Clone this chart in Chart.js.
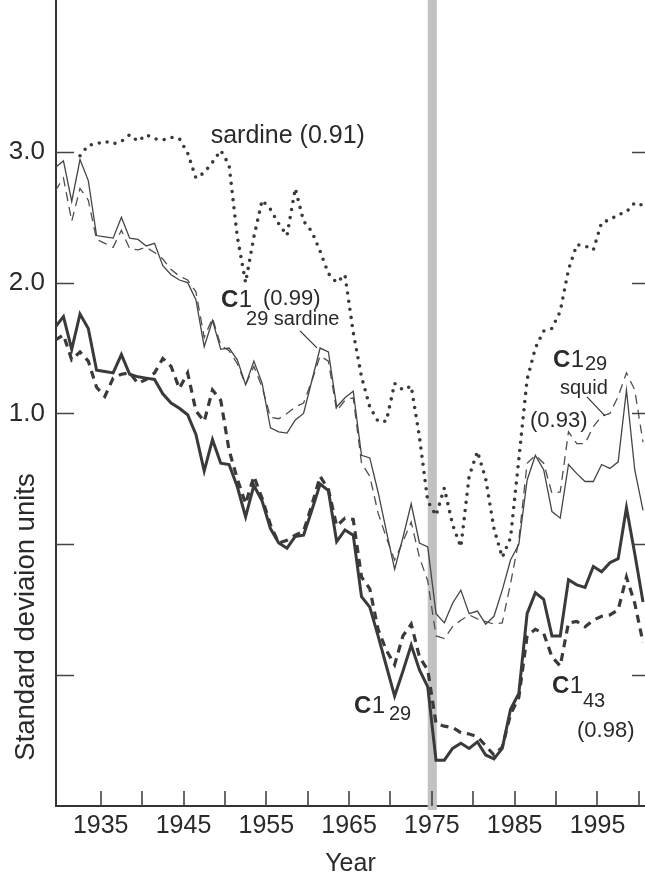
<!DOCTYPE html>
<html>
<head>
<meta charset="utf-8">
<script src="https://cdn.jsdelivr.net/npm/chart.js@4.4.0/dist/chart.umd.min.js"></script>
<style>
html, body { margin: 0; padding: 0; background: #fff; overflow: hidden; }
#wrap { width: 645px; height: 874px; }
</style>
</head>
<body>
<div id="wrap"><canvas id="canvas" width="645" height="874"></canvas></div>
<script>
// annual values, plotted at mid-year
var years = [1929, 1930, 1931, 1932, 1933, 1934, 1935, 1936, 1937, 1938,
    1939, 1940, 1941, 1942, 1943, 1944, 1945, 1946, 1947, 1948,
    1949, 1950, 1951, 1952, 1953, 1954, 1955, 1956, 1957, 1958,
    1959, 1960, 1961, 1962, 1963, 1964, 1965, 1966, 1967, 1968,
    1969, 1970, 1971, 1972, 1973, 1974, 1975, 1976, 1977, 1978,
    1979, 1980, 1981, 1982, 1983, 1984, 1985, 1986, 1987, 1988,
    1989, 1990, 1991, 1992, 1993, 1994, 1995, 1996, 1997, 1998,
    1999, 2000];

var sardine = [null, null, null, 2.97, 3.05, 3.06, 3.08, 3.06, 3.08, 3.13,
    3.08, 3.13, 3.10, 3.09, 3.11, 3.10, 2.99, 2.80, 2.84, 2.92,
    3.01, 2.90, 2.35, 2.00, 2.35, 2.63, 2.56, 2.45, 2.36, 2.72,
    2.47, 2.39, 2.24, 2.07, 2.00, 2.06, 1.62, 1.28, 1.05, 0.94,
    0.94, 1.23, 1.18, 1.21, 0.82, 0.33, 0.22, 0.43, 0.15, -0.02,
    0.52, 0.71, 0.50, 0.12, -0.10, 0.05, 0.65, 1.26, 1.50, 1.63,
    1.65, 1.78, 2.10, 2.29, 2.28, 2.25, 2.46, 2.48, 2.52, 2.54,
    2.61, 2.59];

var c129Sardine = [2.88, 2.93, 2.62, 2.94, 2.78, 2.36, 2.35, 2.34, 2.50, 2.34,
    2.33, 2.28, 2.30, 2.13, 2.06, 2.02, 2.00, 1.87, 1.51, 1.71,
    1.49, 1.50, 1.41, 1.22, 1.40, 1.23, 0.89, 0.86, 0.85, 0.95,
    1.00, 1.25, 1.50, 1.47, 1.05, 1.12, 1.17, 0.68, 0.66, 0.40,
    0.10, -0.19, 0.05, 0.31, 0.01, -0.02, -0.53, -0.60, -0.45, -0.35,
    -0.53, -0.51, -0.61, -0.55, -0.35, -0.12, 0.00, 0.49, 0.68, 0.57,
    0.25, 0.20, 0.61, 0.54, 0.48, 0.48, 0.61, 0.58, 0.63, 1.18,
    0.57, 0.26];

var c129Squid = [2.70, 2.80, 2.47, 2.72, 2.63, 2.33, 2.30, 2.27, 2.40, 2.26,
    2.25, 2.27, 2.23, 2.18, 2.10, 2.05, 2.02, 1.93, 1.58, 1.73,
    1.52, 1.48, 1.38, 1.22, 1.36, 1.20, 0.97, 0.96, 1.00, 1.05,
    1.08, 1.25, 1.44, 1.40, 1.02, 1.10, 1.12, 0.62, 0.52, 0.24,
    0.05, -0.12, 0.02, 0.17, -0.10, -0.28, -0.70, -0.72, -0.63, -0.58,
    -0.54, -0.57, -0.59, -0.61, -0.60, -0.30, 0.03, 0.62, 0.68, 0.62,
    0.39, 0.40, 0.86, 0.77, 0.77, 0.90, 0.98, 1.00, 1.13, 1.31,
    1.18, 0.78];

var c129 = [1.66, 1.74, 1.49, 1.76, 1.65, 1.33, 1.32, 1.31, 1.45, 1.30,
    1.28, 1.27, 1.26, 1.15, 1.08, 1.04, 0.99, 0.84, 0.56, 0.80,
    0.62, 0.61, 0.44, 0.21, 0.45, 0.33, 0.12, 0.01, -0.03, 0.06,
    0.07, 0.26, 0.46, 0.41, 0.02, 0.11, 0.07, -0.40, -0.48, -0.70,
    -0.93, -1.16, -0.97, -0.77, -0.96, -1.09, -1.65, -1.65, -1.56, -1.52,
    -1.56, -1.51, -1.61, -1.64, -1.56, -1.26, -1.14, -0.53, -0.37, -0.42,
    -0.70, -0.70, -0.27, -0.31, -0.33, -0.17, -0.21, -0.14, -0.11, 0.28,
    -0.07, -0.44];

var c143 = [1.56, 1.60, 1.41, 1.47, 1.40, 1.20, 1.13, 1.27, 1.30, 1.31,
    1.23, 1.26, 1.31, 1.42, 1.36, 1.19, 1.31, 1.02, 0.94, 1.18,
    1.10, 0.72, 0.50, 0.31, 0.52, 0.35, 0.15, 0.01, 0.03, 0.07,
    0.10, 0.30, 0.52, 0.42, 0.14, 0.20, 0.19, -0.25, -0.34, -0.65,
    -0.81, -0.92, -0.70, -0.61, -0.86, -0.96, -1.37, -1.39, -1.40, -1.44,
    -1.45, -1.47, -1.54, -1.61, -1.55, -1.30, -1.17, -0.70, -0.65, -0.68,
    -0.86, -0.93, -0.60, -0.59, -0.63, -0.58, -0.55, -0.54, -0.50, -0.25,
    -0.45, -0.75];

var xTickYears = [1935, 1940, 1945, 1950, 1955, 1960, 1965, 1970, 1975, 1980, 1985, 1990, 1995, 2000];
var xLabelYears = [1935, 1945, 1955, 1965, 1975, 1985, 1995];
var yTickValues = [-1, 0, 1, 2, 3];
var yLabelValues = [1, 2, 3];
var shiftYear = 1975;

var FONT = "'Liberation Sans', Arial, Helvetica, sans-serif";
var INK = '#3a3a3a';

function toPoints(values) {
    return years.map(function(yr, i) {
        return { x: yr + 0.5, y: values[i] };
    });
}

// draws the regime-shift band, inward ticks, axis titles and curve labels
var decor = {
    id: 'decor',
    beforeDatasetsDraw: function(chart) {
        var ctx = chart.ctx, a = chart.chartArea, xs = chart.scales.x;
        var x0 = xs.getPixelForValue(shiftYear - 0.5);
        var x1 = xs.getPixelForValue(shiftYear + 0.6);
        ctx.save();
        ctx.fillStyle = '#c2c2c2';
        ctx.fillRect(x0, a.top, x1 - x0, a.bottom - a.top + 4);
        ctx.restore();
    },
    afterDraw: function(chart) {
        var ctx = chart.ctx, a = chart.chartArea;
        var xs = chart.scales.x, ys = chart.scales.y;
        function px(yr, v) { return [xs.getPixelForValue(yr), ys.getPixelForValue(v)]; }

        ctx.save();
        ctx.strokeStyle = '#444';
        ctx.lineWidth = 1.3;
        ctx.beginPath();
        yTickValues.forEach(function(v) {
            var y = Math.round(ys.getPixelForValue(v)) + 0.5;
            ctx.moveTo(a.left, y); ctx.lineTo(a.left + 18, y);
            ctx.moveTo(a.right - 13, y); ctx.lineTo(a.right, y);
        });
        ctx.stroke();
        ctx.lineWidth = 1.6;
        ctx.beginPath();
        xTickYears.forEach(function(yr) {
            var x = Math.round(xs.getPixelForValue(yr));
            ctx.moveTo(x, a.bottom); ctx.lineTo(x, a.bottom - 15);
        });
        ctx.stroke();

        // axis titles
        ctx.fillStyle = '#2a2a2a';
        ctx.textBaseline = 'alphabetic';
        ctx.textAlign = 'center';
        ctx.font = '25px ' + FONT;
        ctx.fillText('Year', (a.left + a.right) / 2, 871);
        ctx.save();
        ctx.translate(34, 617);
        ctx.rotate(-Math.PI / 2);
        ctx.font = '27.5px ' + FONT;
        ctx.fillText('Standard deviaion units', 0, 0);
        ctx.restore();

        // curve labels
        ctx.textAlign = 'left';
        function text(str, yr, v, size, bold) {
            var p = px(yr, v);
            ctx.font = (bold ? 'bold ' : '') + size + 'px ' + FONT;
            ctx.fillText(str, p[0], p[1]);
            return p[0] + ctx.measureText(str).width;
        }
        function c1(yr, v) {
            var p = px(yr, v);
            ctx.font = 'bold 24px ' + FONT;
            ctx.fillText('C', p[0], p[1]);
            var w = ctx.measureText('C').width;
            ctx.font = '24px ' + FONT;
            ctx.fillText('1', p[0] + w + 0.5, p[1]);
        }
        function leader(yr0, v0, yr1, v1) {
            var p = px(yr0, v0), q = px(yr1, v1);
            ctx.beginPath();
            ctx.moveTo(p[0], p[1]); ctx.lineTo(q[0], q[1]);
            ctx.stroke();
        }

        text('sardine (0.91)', 1948.28, 3.07, 25);

        c1(1949.53, 1.814);
        text('(0.99)', 1954.6, 1.83, 22);
        text('29 sardine', 1952.55, 1.677, 20);

        c1(1989.63, 1.356);
        text('29', 1993.49, 1.333, 20);
        text('squid', 1990.47, 1.15, 20);
        text('(0.93)', 1986.85, 0.898, 22);

        c1(1965.59, -1.287);
        text('29', 1969.82, -1.341, 20);

        c1(1989.51, -1.134);
        text('43', 1993.25, -1.241, 20);
        text('(0.98)', 1992.53, -1.471, 22);

        ctx.strokeStyle = '#333';
        ctx.lineWidth = 1.2;
        leader(1959.07, 1.631, 1961.12, 1.501);
        leader(1993.73, 1.127, 1995.91, 0.982);
        ctx.restore();
    }
};

window.onload = function() {
    Chart.defaults.font.family = FONT;
    var ctx = document.getElementById('canvas').getContext('2d');
    new Chart(ctx, {
        type: 'line',
        data: {
            datasets: [{
                label: 'C1 29 sardine',
                data: toPoints(c129Sardine),
                borderColor: '#454545',
                borderWidth: 1.3
            }, {
                label: 'C1 29 squid',
                data: toPoints(c129Squid),
                borderColor: '#505050',
                borderWidth: 1.3,
                borderDash: [9, 6]
            }, {
                label: 'C1 29',
                data: toPoints(c129),
                borderColor: INK,
                borderWidth: 3
            }, {
                label: 'C1 43',
                data: toPoints(c143),
                borderColor: INK,
                borderWidth: 3.2,
                borderDash: [8, 6]
            }, {
                label: 'sardine',
                data: toPoints(sardine),
                borderColor: '#3a3a3a',
                borderWidth: 3.6,
                borderDash: [0, 8.2],
                borderCapStyle: 'round'
            }]
        },
        options: {
            responsive: false,
            animation: false,
            devicePixelRatio: 1,
            layout: { padding: 0 },
            elements: { point: { radius: 0 }, line: { tension: 0 } },
            plugins: { legend: { display: false }, tooltip: { enabled: false } },
            scales: {
                x: {
                    type: 'linear',
                    bounds: 'data',
                    min: 1929.6,
                    max: 2000.74,
                    grid: { display: false, drawTicks: false },
                    border: { display: true, color: '#333', width: 2 },
                    afterBuildTicks: function(scale) {
                        scale.ticks = xTickYears.map(function(v) { return { value: v }; });
                    },
                    afterFit: function(scale) {
                        scale.height = 68;
                        scale.paddingLeft = 0; scale.paddingRight = 0;
                    },
                    ticks: {
                        autoSkip: false,
                        maxRotation: 0,
                        minRotation: 0,
                        padding: 5,
                        color: '#2a2a2a',
                        font: { size: 25 },
                        callback: function(v) { return xLabelYears.indexOf(v) >= 0 ? String(v) : ''; }
                    }
                },
                y: {
                    type: 'linear',
                    bounds: 'data',
                    min: -2,
                    max: 4.16,
                    grid: { display: false, drawTicks: false },
                    border: { display: true, color: '#333', width: 2 },
                    afterBuildTicks: function(scale) {
                        scale.ticks = yTickValues.map(function(v) { return { value: v }; });
                    },
                    afterFit: function(scale) {
                        scale.width = 56;
                        scale.paddingTop = 0; scale.paddingBottom = 0;
                    },
                    ticks: {
                        autoSkip: false,
                        padding: 11,
                        color: '#2a2a2a',
                        font: { size: 26 },
                        callback: function(v) { return yLabelValues.indexOf(v) >= 0 ? v.toFixed(1) : ''; }
                    }
                }
            }
        },
        plugins: [decor]
    });
};
</script>
</body>
</html>
